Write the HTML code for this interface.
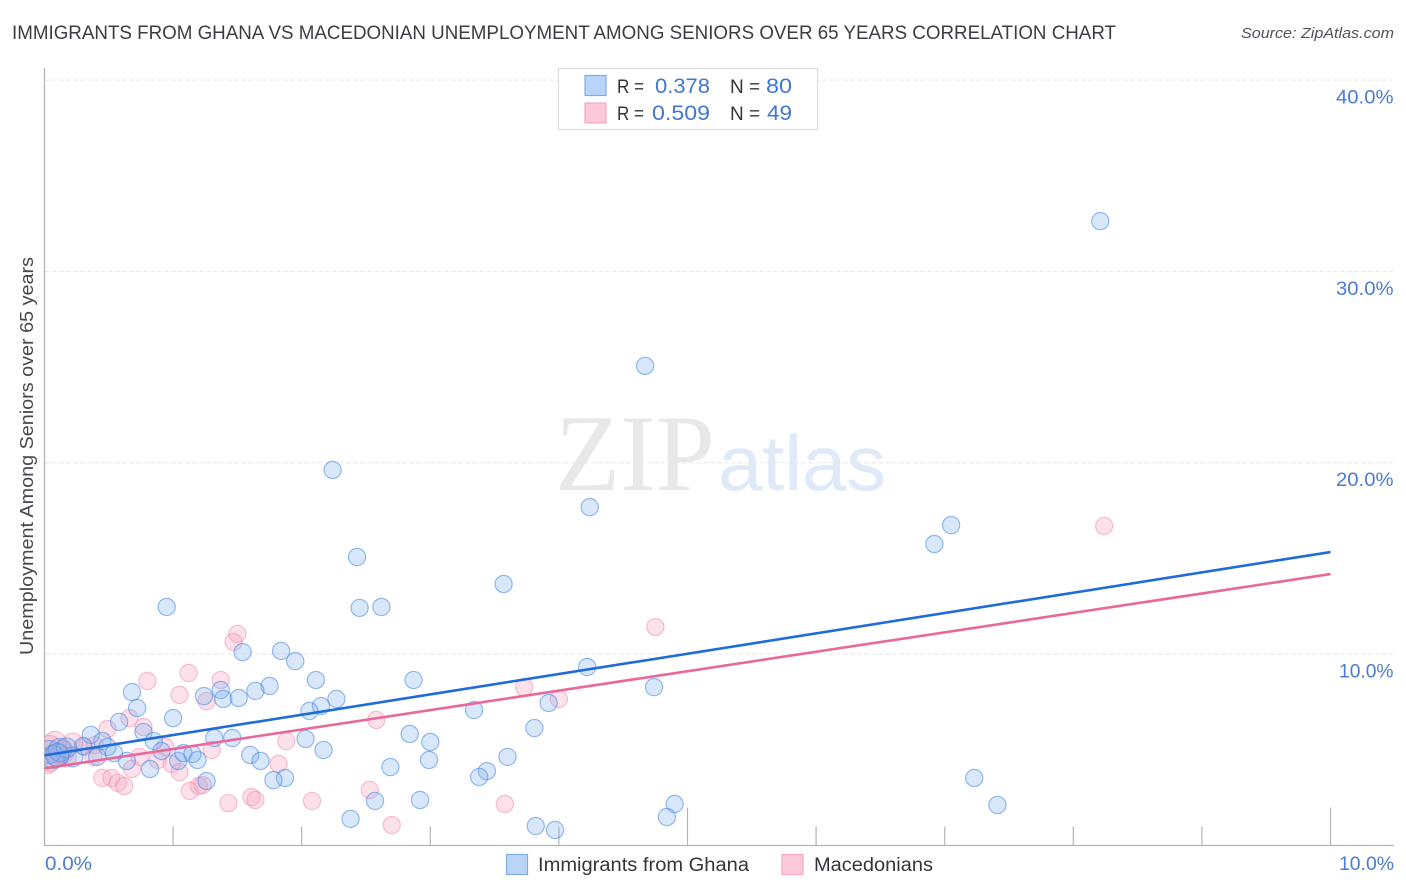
<!DOCTYPE html>
<html lang="en">
<head>
<meta charset="utf-8">
<title>Immigrants from Ghana vs Macedonian Unemployment Among Seniors over 65 Years Correlation Chart</title>
<style>
html,body{margin:0;padding:0;background:#fff;width:1406px;height:892px;overflow:hidden}
svg{display:block}
text{font-family:"Liberation Sans",sans-serif}
</style>
</head>
<body>
<svg id="chart" width="1406" height="892" viewBox="0 0 1406 892" xmlns="http://www.w3.org/2000/svg">
  <defs>
    <clipPath id="plot-clip"><rect x="45" y="60" width="1350" height="786"/></clipPath>
  </defs>
  <rect x="0" y="0" width="1406" height="892" fill="#ffffff"/>
  <text x="12" y="39" font-size="19.5" fill="#3a3d42" textLength="1104" lengthAdjust="spacingAndGlyphs">IMMIGRANTS FROM GHANA VS MACEDONIAN UNEMPLOYMENT AMONG SENIORS OVER 65 YEARS CORRELATION CHART</text>
  <text x="1241" y="38" font-size="15" font-style="italic" fill="#50535a" textLength="153" lengthAdjust="spacingAndGlyphs">Source: ZipAtlas.com</text>

  <g>
    <text x="555" y="490" font-size="109" fill="#e8e8e8" textLength="160" lengthAdjust="spacingAndGlyphs" style="font-family:'Liberation Serif',serif">ZIP</text>
    <text x="718" y="490" font-size="78" fill="#dfe9f8" textLength="168" lengthAdjust="spacingAndGlyphs">atlas</text>
  </g>

  <g id="grid"></g>
  <g id="axes">
    <line x1="44.5" y1="68" x2="44.5" y2="846" stroke="#b4b4b4" stroke-width="1.3"/>
    <line x1="44" y1="845.5" x2="1394" y2="845.5" stroke="#b4b4b4" stroke-width="1.3"/>
  </g>
  <g id="x-ticks"></g>
  <g id="y-labels"></g>
  <g id="points" clip-path="url(#plot-clip)"></g>
  <g id="trends"></g>

  <text transform="translate(33,655) rotate(-90)" x="0" y="0" font-size="18" fill="#44474c" textLength="398" lengthAdjust="spacingAndGlyphs">Unemployment Among Seniors over 65 years</text>
  <text x="45" y="870" font-size="19" fill="#4a7bd4" textLength="47" lengthAdjust="spacingAndGlyphs">0.0%</text>
  <text x="1339" y="870" font-size="19" fill="#4a7bd4" textLength="55" lengthAdjust="spacingAndGlyphs">10.0%</text>

  <g>
    <rect x="558.5" y="68.5" width="259" height="61" fill="#ffffff" stroke="#dddddd" stroke-width="1.2"/>
    <rect x="585" y="75.5" width="21" height="20" fill="#b9d4f7" stroke="#7fade8" stroke-width="1.2"/>
    <rect x="585" y="103" width="21" height="20" fill="#fdc9da" stroke="#f3a9c1" stroke-width="1.2"/>
    <text x="617" y="93" font-size="19" fill="#33363b" textLength="27" lengthAdjust="spacingAndGlyphs">R =</text>
    <text x="655" y="93" font-size="21" fill="#4077d2" textLength="55" lengthAdjust="spacingAndGlyphs">0.378</text>
    <text x="730" y="93" font-size="19" fill="#33363b">N =</text>
    <text x="766" y="93" font-size="21" fill="#4077d2" textLength="26" lengthAdjust="spacingAndGlyphs">80</text>
    <text x="617" y="120" font-size="19" fill="#33363b" textLength="27" lengthAdjust="spacingAndGlyphs">R =</text>
    <text x="652" y="120" font-size="21" fill="#4077d2" textLength="58" lengthAdjust="spacingAndGlyphs">0.509</text>
    <text x="730" y="120" font-size="19" fill="#33363b">N =</text>
    <text x="767" y="120" font-size="21" fill="#4077d2" textLength="25" lengthAdjust="spacingAndGlyphs">49</text>
  </g>

  <g>
    <rect x="506.5" y="854.5" width="21" height="20" fill="#b9d4f7" stroke="#7fade8" stroke-width="1.2"/>
    <text x="538" y="871" font-size="19" fill="#33363b" textLength="211" lengthAdjust="spacingAndGlyphs">Immigrants from Ghana</text>
    <rect x="782" y="854.5" width="21" height="20" fill="#fdc9da" stroke="#f3a9c1" stroke-width="1.2"/>
    <text x="814" y="871" font-size="19" fill="#33363b" textLength="119" lengthAdjust="spacingAndGlyphs">Macedonians</text>
  </g>
</svg>
<script>
const yTickValues = [10, 20, 30, 40];
const yTickLabels = ["10.0%", "20.0%", "30.0%", "40.0%"];
const xTickValues = [1, 2, 3, 4, 5, 6, 7, 8, 9, 10];
const xTallTicks = [5, 10];

const ghanaX = [8.21,4.67,2.24,4.24,7.05,6.92,2.43,3.57,0.95,2.45,2.62,1.54,1.84,1.95,4.22,2.11,2.87,4.74,0.68,1.75,1.64,1.37,1.24,1.39,1.51,0.72,2.27,2.15,2.06,3.34,3.92,1.00,0.58,3.81,0.36,0.77,1.32,1.46,2.03,2.84,3.00,0.85,2.17,3.60,1.60,1.68,1.19,2.99,1.04,2.69,0.82,3.44,3.38,1.87,1.78,1.26,7.23,4.90,2.92,2.57,7.41,2.38,4.84,3.82,3.97,0.45,0.30,0.49,0.91,0.64,0.54,0.41,0.22,1.08,1.15,0.04,0.07,0.12,0.17,0.10];
const ghanaY = [32.63,25.06,19.62,17.68,16.74,15.75,15.07,13.66,12.46,12.41,12.46,10.10,10.16,9.63,9.32,8.64,8.64,8.27,8.01,8.33,8.07,8.12,7.80,7.65,7.70,7.18,7.65,7.28,7.02,7.07,7.44,6.65,6.45,6.13,5.77,5.92,5.61,5.61,5.56,5.82,5.40,5.45,4.98,4.62,4.72,4.41,4.46,4.46,4.41,4.09,3.99,3.88,3.57,3.52,3.41,3.36,3.52,2.16,2.37,2.32,2.11,1.38,1.48,1.01,0.80,5.45,5.19,5.14,4.93,4.41,4.82,4.62,4.62,4.82,4.77,4.88,4.62,4.98,5.09,4.72];

const macedonianX = [0.80,1.12,1.05,1.37,1.26,0.66,0.49,0.77,1.47,1.50,0.45,0.52,0.57,0.62,0.68,0.74,0.88,0.94,0.99,1.05,1.30,1.13,1.20,1.23,1.43,1.61,1.64,1.88,1.82,2.08,2.58,2.53,2.70,3.58,3.73,4.00,4.75,8.24,0.38,0.22,0.08,0.31,0.04,0.04,0.14,0.17,0.10,0.39,0.02];
const macedonianY = [8.59,9.01,7.86,8.64,7.54,6.65,6.08,6.18,10.63,11.05,3.52,3.52,3.26,3.10,3.99,4.62,4.46,5.14,4.25,3.83,4.98,2.84,3.10,3.15,2.21,2.52,2.37,5.45,4.25,2.32,6.55,2.89,1.06,2.16,8.27,7.65,11.41,16.69,4.62,5.35,5.35,5.14,5.14,4.46,4.88,4.62,4.72,5.24,4.35];

const ghanaTrend = [4.70, 15.33];
const macedonianTrend = [4.02, 14.18];

const SVG_NS = "http://www.w3.org/2000/svg";
function xScale(v) { return 44.5 + v * 128.6; }
function yScale(v) { return 845.3 - v * 19.13; }
function pointRadius(xv) { return xv < 0.15 ? 11.5 : (xv < 0.25 ? 10 : 8.6); }

const gridGroup = document.getElementById("grid");
const labelGroup = document.getElementById("y-labels");
yTickValues.forEach(function (v, i) {
  const line = document.createElementNS(SVG_NS, "line");
  line.setAttribute("x1", xScale(0) + 1);
  line.setAttribute("x2", 1393);
  line.setAttribute("y1", yScale(v));
  line.setAttribute("y2", yScale(v));
  line.setAttribute("stroke", "#e6e6e6");
  line.setAttribute("stroke-width", "1");
  line.setAttribute("stroke-dasharray", "4 3");
  
  
  gridGroup.appendChild(line);

  const label = document.createElementNS(SVG_NS, "text");
  label.setAttribute("x", v === 10 ? 1339 : 1336);
  label.setAttribute("y", yScale(v) + 23.5);
  label.setAttribute("font-size", "19");
  label.setAttribute("fill", "#4a7bd4");
  label.setAttribute("textLength", v === 10 ? 54.5 : 57.5);
  label.setAttribute("lengthAdjust", "spacingAndGlyphs");
  label.textContent = yTickLabels[i];
  
  
  labelGroup.appendChild(label);
});

const tickGroup = document.getElementById("x-ticks");
xTickValues.forEach(function (v) {
  const tick = document.createElementNS(SVG_NS, "line");
  tick.setAttribute("x1", xScale(v));
  tick.setAttribute("x2", xScale(v));
  tick.setAttribute("y1", xTallTicks.indexOf(v) >= 0 ? 807.5 : 826.5);
  tick.setAttribute("y2", 845.5);
  tick.setAttribute("stroke", "#b4b4b4");
  tick.setAttribute("stroke-width", "1.2");
  
  
  tickGroup.appendChild(tick);
});

const pointGroup = document.getElementById("points");
macedonianX.forEach(function (xv, i) {
  const dot = document.createElementNS(SVG_NS, "circle");
  dot.setAttribute("cx", xScale(xv));
  dot.setAttribute("cy", yScale(macedonianY[i]));
  dot.setAttribute("r", pointRadius(xv));
  dot.setAttribute("fill", "rgba(249,165,192,0.33)");
  dot.setAttribute("stroke", "rgba(238,135,170,0.5)");
  dot.setAttribute("stroke-width", "1.2");
  
  
  pointGroup.appendChild(dot);
});
ghanaX.forEach(function (xv, i) {
  const dot = document.createElementNS(SVG_NS, "circle");
  dot.setAttribute("cx", xScale(xv));
  dot.setAttribute("cy", yScale(ghanaY[i]));
  dot.setAttribute("r", pointRadius(xv));
  dot.setAttribute("fill", "rgba(125,175,238,0.3)");
  dot.setAttribute("stroke", "rgba(70,135,225,0.55)");
  dot.setAttribute("stroke-width", "1.2");
  
  
  pointGroup.appendChild(dot);
});

const trendGroup = document.getElementById("trends");
const ghanaLine = document.createElementNS(SVG_NS, "line");
ghanaLine.setAttribute("x1", xScale(0));
ghanaLine.setAttribute("y1", yScale(ghanaTrend[0]));
ghanaLine.setAttribute("x2", xScale(10));
ghanaLine.setAttribute("y2", yScale(ghanaTrend[1]));
ghanaLine.setAttribute("stroke", "#1f6bd8");
ghanaLine.setAttribute("stroke-width", "2.6");


trendGroup.appendChild(ghanaLine);

const macedonianLine = document.createElementNS(SVG_NS, "line");
macedonianLine.setAttribute("x1", xScale(0));
macedonianLine.setAttribute("y1", yScale(macedonianTrend[0]));
macedonianLine.setAttribute("x2", xScale(10));
macedonianLine.setAttribute("y2", yScale(macedonianTrend[1]));
macedonianLine.setAttribute("stroke", "#e8689a");
macedonianLine.setAttribute("stroke-width", "2.6");


trendGroup.appendChild(macedonianLine);
</script>
</body>
</html>
